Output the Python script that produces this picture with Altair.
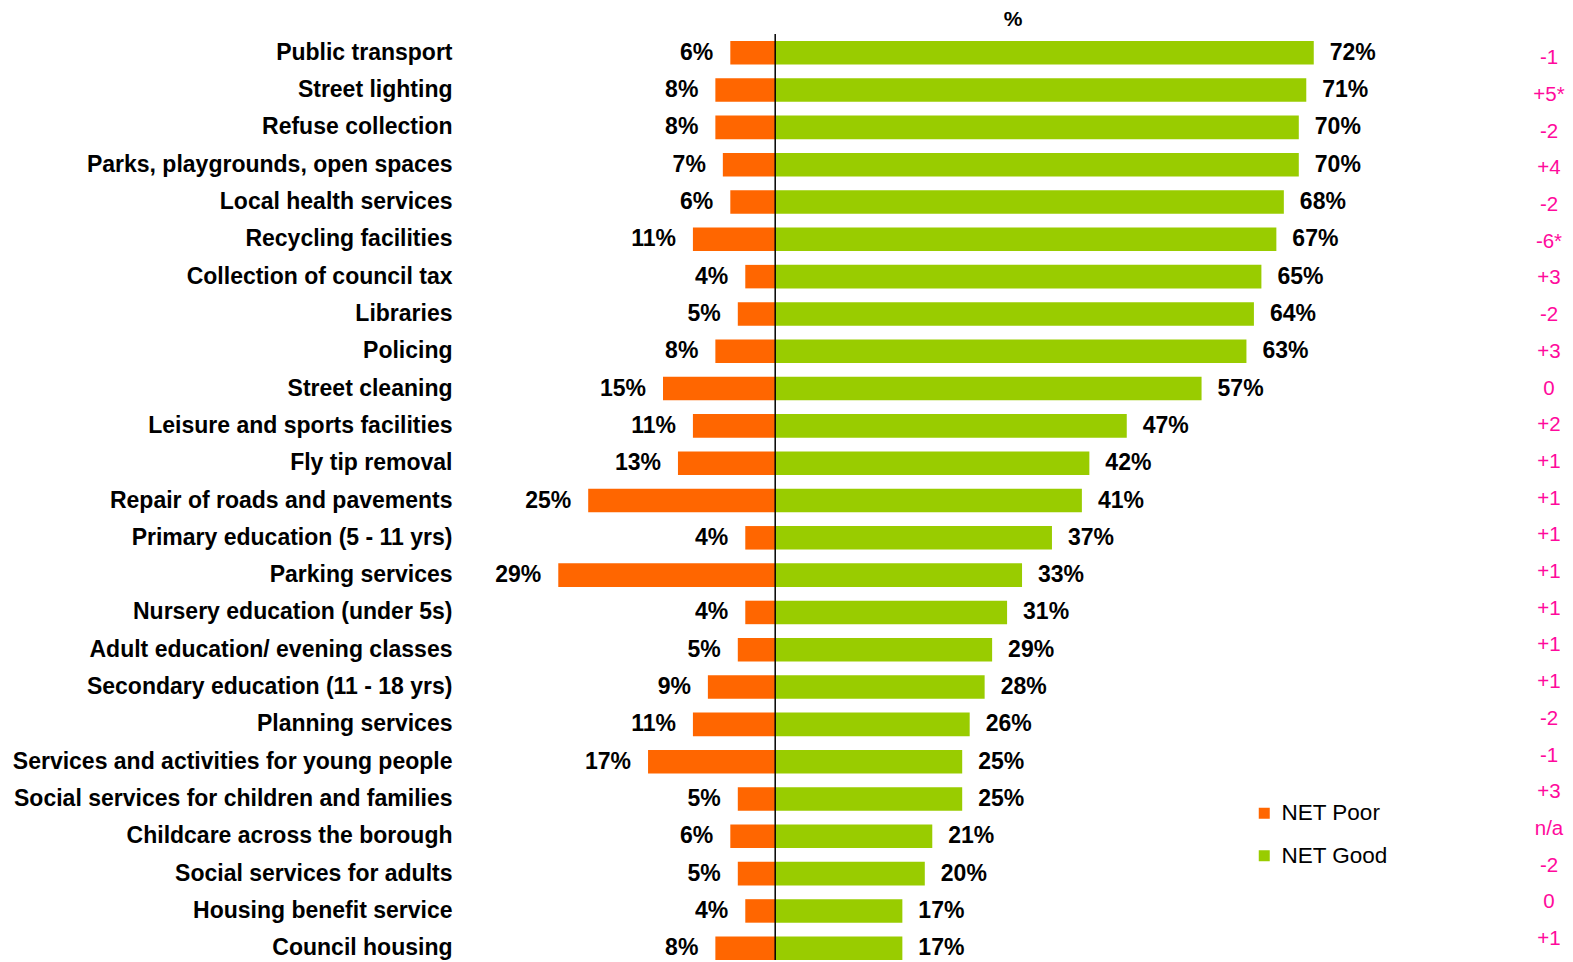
import altair as alt
import pandas as pd

categories = [
    "Public transport", "Street lighting", "Refuse collection",
    "Parks, playgrounds, open spaces", "Local health services",
    "Recycling facilities", "Collection of council tax", "Libraries",
    "Policing", "Street cleaning", "Leisure and sports facilities",
    "Fly tip removal", "Repair of roads and pavements",
    "Primary education (5 - 11 yrs)", "Parking services",
    "Nursery education (under 5s)", "Adult education/ evening classes",
    "Secondary education (11 - 18 yrs)", "Planning services",
    "Services and activities for young people",
    "Social services for children and families",
    "Childcare across the borough", "Social services for adults",
    "Housing benefit service", "Council housing",
]
net_poor = [6, 8, 8, 7, 6, 11, 4, 5, 8, 15, 11, 13, 25, 4, 29, 4, 5, 9, 11, 17, 5, 6, 5, 4, 8]
net_good = [72, 71, 70, 70, 68, 67, 65, 64, 63, 57, 47, 42, 41, 37, 33, 31, 29, 28, 26, 25, 25, 21, 20, 17, 17]
change = ["-1", "+5*", "-2", "+4", "-2", "-6*", "+3", "-2", "+3", "0", "+2", "+1", "+1",
          "+1", "+1", "+1", "+1", "+1", "-2", "-1", "+3", "n/a", "-2", "0", "+1"]
series = ["NET Poor", "NET Good"]
colors = ["#FF6600", "#99CC00"]

PX = 7.48
W = 1071
XMIN = -40
XMAX = XMIN + W / PX
H = 919
FONT = "Liberation Sans"

rows = []
for c, p, g in zip(categories, net_poor, net_good):
    rows.append({"cat": c, "series": "NET Poor", "lo": -p, "hi": 0})
    rows.append({"cat": c, "series": "NET Good", "lo": 0, "hi": g})
bars_df = pd.DataFrame(rows)

lab_df = pd.DataFrame({
    "cat": categories,
    "poor_x": [-p for p in net_poor],
    "poor_t": [f"{p}%" for p in net_poor],
    "good_x": net_good,
    "good_t": [f"{g}%" for g in net_good],
    "change": change,
})

xs = alt.Scale(domain=[XMIN, XMAX], nice=False, zero=False)
ys = alt.Scale(paddingInner=0.37, paddingOuter=0, align=0)
yaxis = alt.Axis(domain=False, ticks=False, labelPadding=24, labelLimit=0,
                 labelFont=FONT, labelFontSize=23, labelFontWeight="bold",
                 labelColor="#000000", grid=False)
yenc = alt.Y("cat:N", sort=categories, scale=ys, title=None, axis=yaxis)

bars = alt.Chart(bars_df).mark_bar().encode(
    y=yenc,
    x=alt.X("lo:Q", scale=xs, axis=None),
    x2="hi:Q",
    color=alt.Color("series:N", scale=alt.Scale(domain=series, range=colors),
                    legend=alt.Legend(orient="none", legendX=777, legendY=761, title=None,
                                      symbolType="square", symbolSize=121, symbolStrokeWidth=0,
                                      labelFont=FONT, labelFontSize=22.5, labelColor="#000000",
                                      rowPadding=19.5, labelOffset=6, padding=0)),
)

poor_lbl = alt.Chart(lab_df).mark_text(
    align="right", baseline="middle", dx=-17, font=FONT, fontSize=23, fontWeight="bold", color="#000000"
).encode(
    y=yenc,
    x=alt.X("poor_x:Q", scale=xs, axis=None),
    text="poor_t:N",
)

good_lbl = alt.Chart(lab_df).mark_text(
    align="left", baseline="middle", dx=16, font=FONT, fontSize=23, fontWeight="bold", color="#000000"
).encode(
    y=yenc,
    x=alt.X("good_x:Q", scale=xs, axis=None),
    text="good_t:N",
)

zero_rule = alt.Chart(pd.DataFrame({"z": [0]})).mark_rule(color="#000000", strokeWidth=1.5).encode(
    x=alt.X("z:Q", scale=xs, axis=None),
    y=alt.value(-7),
    y2=alt.value(H),
)

pct = alt.Chart(pd.DataFrame({"t": ["%"]})).mark_text(
    align="center", baseline="top", font=FONT, fontSize=21, fontWeight="bold", color="#000000"
).encode(x=alt.value(537), y=alt.value(-32), text="t:N")

main = alt.layer(bars, zero_rule, poor_lbl, good_lbl, pct)

chg = alt.Chart(lab_df).mark_text(
    align="center", baseline="middle", font=FONT, fontSize=20.5, color="#FF0A9C"
).encode(
    y=alt.Y("cat:N", sort=categories,
            scale=alt.Scale(range=[-1.15, 916.35], paddingInner=0, paddingOuter=0), axis=None),
    x=alt.value(W + 2),
    text="change:N",
)

chart = alt.layer(main, chg).resolve_scale(y="independent").properties(
    width=W, height=H,
    autosize=alt.AutoSizeParams(type="none"),
    padding={"left": 468, "top": 33, "right": 18, "bottom": 0},
).configure_view(stroke=None)

chart.save("out.html", embed_options={"renderer": "svg", "actions": False})
